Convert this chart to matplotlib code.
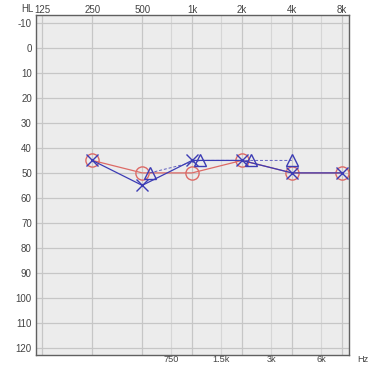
import matplotlib
matplotlib.use("Agg")
import matplotlib.pyplot as plt
from matplotlib.ticker import FixedLocator, FixedFormatter

plt.rcParams["font.family"] = ["Liberation Sans", "DejaVu Sans"]

# ---- data ----
freqs = [250, 500, 1000, 2000, 4000, 8000]
right_ac = [45, 50, 50, 45, 50, 50]      # red circles
left_ac = [45, 55, 45, 45, 50, 50]       # blue crosses
bc_freqs = [500, 1000, 2000, 4000]
left_bc = [50, 45, 45, 45]               # blue triangles
bc_shift = [1.11, 1.12, 1.13, 1.0]       # drawn slightly right of the frequency

major_freqs = [125, 250, 500, 1000, 2000, 4000, 8000]
major_labels = ["125", "250", "500", "1k", "2k", "4k", "8k"]
minor_freqs = [750, 1500, 3000, 6000]
minor_labels = ["750", "1.5k", "3k", "6k"]
db_ticks = list(range(-10, 121, 10))

RED = "#dd6a66"
BLUE = "#3c3cb4"
TXT = "#444444"
FS = 7

fig = plt.figure(figsize=(3.75, 3.66), dpi=100)
ax = fig.add_axes([36 / 375, 1 - 355 / 366, (349 - 36) / 375, (355 - 15) / 366])
ax.set_facecolor("#ececec")
ax.set_xscale("log", base=2)
ax.set_xlim(125 * 2 ** -0.13, 8000 * 2 ** 0.146)
ax.set_ylim(123.0, -13.3)

# grid
for f in major_freqs:
    ax.axvline(f, color="#c6c6c6", lw=0.9, zorder=0)
for f in minor_freqs:
    ax.axvline(f, color="#d6d6d6", lw=0.8, zorder=0)
for d in db_ticks:
    ax.axhline(d, color="#c6c6c6", lw=0.9, zorder=0)

# ticks / labels
ax.xaxis.set_major_locator(FixedLocator(major_freqs))
ax.xaxis.set_major_formatter(FixedFormatter(major_labels))
ax.xaxis.set_minor_locator(FixedLocator(minor_freqs))
ax.xaxis.set_minor_formatter(FixedFormatter(minor_labels))
ax.tick_params(axis="x", which="major", top=False, bottom=False,
               labeltop=True, labelbottom=False, length=0, pad=0.3,
               labelsize=FS, labelcolor=TXT)
ax.tick_params(axis="x", which="minor", top=False, bottom=False,
               labeltop=False, labelbottom=True, length=0, pad=0.3,
               labelsize=6.6, labelcolor=TXT)
ax.set_yticks(db_ticks)
ax.set_yticklabels([str(d) for d in db_ticks])
ax.tick_params(axis="y", length=0, pad=3, labelsize=FS, labelcolor=TXT)

for s in ax.spines.values():
    s.set_color("#606060")
    s.set_linewidth(1.0)

fig.text(21 / 375, 1 - 9.5 / 366, "HL", fontsize=FS, color=TXT, ha="left", va="center")
fig.text(357 / 375, 1 - 360 / 366, "Hz", fontsize=6.6, color=TXT, ha="left", va="center")

# series
ax.plot(freqs, right_ac, color=RED, lw=0.9, marker="o", ms=9.5, mfc="none",
        mec=RED, mew=1.0, zorder=3, clip_on=False)
ax.plot(freqs, left_ac, color=BLUE, lw=0.9, marker="x", ms=8.5,
        mec=BLUE, mew=1.0, zorder=4, clip_on=False)
bc_pos = [f * s for f, s in zip(bc_freqs, bc_shift)]
ax.plot(bc_pos, left_bc, color=BLUE, lw=0.7, ls=(0, (3, 2)), alpha=0.8, zorder=3)
ax.plot(bc_pos, left_bc, ls="none", marker="^", ms=9, mfc="none",
        mec=BLUE, mew=1.0, zorder=4)

fig.savefig("out.png", dpi=100)
